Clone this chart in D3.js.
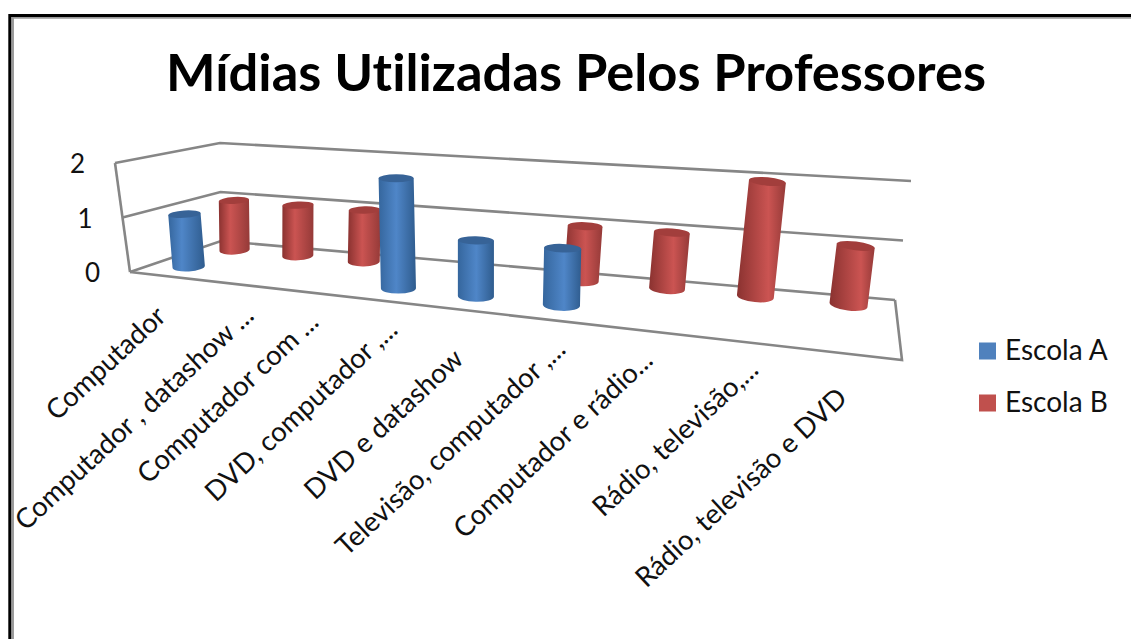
<!DOCTYPE html>
<html>
<head>
<meta charset="utf-8">
<script src="https://cdn.jsdelivr.net/npm/d3@7"></script>
<style>
    html, body { margin: 0; padding: 0; background: #fff; }
    svg { display: block; }
    text { font-family: Lato, "Open Sans", sans-serif; fill: #111; font-variant-ligatures: none; }
</style>
</head>
<body>
<div id="chart"></div>
<script>
const chartTitle = "Mídias Utilizadas Pelos Professores"
const categories = [
    "Computador",
    "Computador , datashow ...",
    "Computador com ...",
    "DVD, computador ,...",
    "DVD e datashow",
    "Televisão, computador ,...",
    "Computador e rádio...",
    "Rádio, televisão,...",
    "Rádio, televisão e DVD"
]
const seriesNames = ["Escola A", "Escola B"]
// null = pas de colonne pour cette catégorie
const escolaA = [1, null, null, 2, 1, 1, null, null, null]
const escolaB = [1, 1, 1, null, null, 1, 1, 2, 1]
const yTicks = [0, 1, 2]

const width = 1131, height = 639

// Coins du plancher et montée (pour la valeur max) de la boite 3D
const floorCorners = { fl: [130, 272], fr: [902, 360], bl: [221, 241], br: [895, 300] }
const riseCorners = { fl: [-15, -109], fr: [10, -125], bl: [-1, -98], br: [16, -119] }
const depths = { "Escola A": 0.42, "Escola B": 0.94 }
const barDrop = 5.5
// position de chaque catégorie le long du plancher (les écarts grandissent vers la droite)
const categoryStops = [0.028, 0.121, 0.218, 0.315, 0.421, 0.538, 0.664, 0.794, 0.931]
// décalage de la fin de chaque libellé par rapport au pied de sa catégorie
const labelOffsets = [[16, 44], [32, 35], [22, 33], [26, 32], [10, 52], [22, 32], [12, 32], [17, 30], [0, 46]]

const colors = {
    "Escola A": { legend: "#4f81bd", left: "#35669d", light: "#4f86c8", right: "#2f5c8e", cap: "#376397" },
    "Escola B": { legend: "#c0504d", left: "#8a3230", light: "#cb5452", right: "#953a38", cap: "#a23e3c" }
}

const svg = d3.select("#chart").append("svg")
    .attr("width", width)
    .attr("height", height)
    .attr("viewBox", [0, 0, width, height])
const defs = svg.append("defs")

// cadre de la capture
svg.append("path").attr("d", "M1131,17.5H12.7V639").attr("fill", "none").attr("stroke", "#999").attr("stroke-width", 2.5)
svg.append("path").attr("d", "M1131,15.5H9.8V639").attr("fill", "none").attr("stroke", "#000").attr("stroke-width", 3)

svg.append("text")
    .attr("x", 576).attr("y", 91)
    .attr("text-anchor", "middle")
    .style("font-size", "52.5px")
    .style("font-weight", "700")
    .style("fill", "#000")
    .text(chartTitle)

/*----- Projection -----*/

const riseScale = d3.scaleLinear().domain([0, 2]).range([0, 1])
const categoryScale = d3.scaleOrdinal().domain(categories).range(categoryStops)

function bilinear(c, u, d) {
    const front = d3.interpolate(c.fl, c.fr)(u)
    const back = d3.interpolate(c.bl, c.br)(u)
    return d3.interpolate(front, back)(d)
}

function project(u, d, value) {
    const p = bilinear(floorCorners, u, d)
    const r = bilinear(riseCorners, u, d)
    const k = riseScale(value)
    return [p[0] + r[0] * k, p[1] + r[1] * k]
}

/*----- Parois -----*/

const wallLine = d3.line()
const box = svg.append("g")
    .attr("fill", "none")
    .attr("stroke", "#868686")
    .attr("stroke-width", 2.6)
    .attr("stroke-linejoin", "miter")

yTicks.forEach(t => {
    box.append("path").attr("d", wallLine([project(0, 0, t), project(0, 1, t), project(1, 1, t)]))
})
box.append("path").attr("d", wallLine([project(0, 0, 0), project(0, 0, 2)]))
box.append("path").attr("d", wallLine([project(0, 0, 0), project(1, 0, 0), project(1, 1, 0)]))

svg.append("g").selectAll("text")
    .data(yTicks)
    .join("text")
    .attr("x", d => project(0, 0, d)[0] - 30)
    .attr("y", d => project(0, 0, d)[1] + 10)
    .attr("text-anchor", "end")
    .style("font-size", "26px")
    .text(d => d)

/*----- Colonnes -----*/

const rxScale = d3.scaleLinear().domain([0, 1]).range([15, 19.4])
const rxDepth = d3.scaleLinear().domain([0.94, 0.42]).range([1, 1.07])
const tiltScale = d3.scaleLinear().domain([0, 1]).range([-4, 8])
const highlightScale = d3.scaleLinear().domain([0, 1]).range([0.36, 0.72])

const bars = [
    ...escolaB.map((v, i) => ({ serie: seriesNames[1], category: categories[i], value: v })),
    ...escolaA.map((v, i) => ({ serie: seriesNames[0], category: categories[i], value: v }))
].filter(b => b.value !== null)

const barGroup = svg.append("g").attr("transform", `translate(0,${barDrop})`)

bars.forEach((b, i) => {
    const u = categoryScale(b.category)
    const depth = depths[b.serie]
    const c = colors[b.serie]
    const rx = rxScale(u) * rxDepth(depth)
    const ryTop = rx * 0.23, ryBottom = rx * 0.3
    const tilt = tiltScale(u)
    const ax = rx * Math.cos(tilt * Math.PI / 180), ay = rx * Math.sin(tilt * Math.PI / 180)
    const [bx, by] = project(u, depth, 0)
    const [tx, ty] = project(u, depth, b.value)

    const gradient = defs.append("linearGradient").attr("id", "bar-" + i)
    gradient.append("stop").attr("offset", 0).attr("stop-color", c.left)
    gradient.append("stop").attr("offset", highlightScale(u)).attr("stop-color", c.light)
    gradient.append("stop").attr("offset", 1).attr("stop-color", c.right)

    barGroup.append("path")
        .attr("d", `M${tx - ax},${ty - ay}L${bx - ax},${by - ay}A${rx},${ryBottom} ${tilt} 0 0 ${bx + ax},${by + ay}L${tx + ax},${ty + ay}Z`)
        .attr("fill", `url(#bar-${i})`)
    barGroup.append("ellipse")
        .attr("transform", `translate(${tx},${ty}) rotate(${tilt})`)
        .attr("rx", rx)
        .attr("ry", ryTop)
        .attr("fill", c.cap)
})

/*----- Libellés -----*/

svg.append("g").selectAll("text")
    .data(categories)
    .join("text")
    .attr("transform", (d, i) => {
        const p = project(categoryScale(d), 0, 0)
        return `translate(${p[0] + labelOffsets[i][0]},${p[1] + labelOffsets[i][1]}) rotate(-43)`
    })
    .attr("text-anchor", "end")
    .style("font-size", "27.5px")
    .text(d => d)

/*----- Légende -----*/

const legendY = d3.scalePoint().domain(seriesNames).range([351, 403])
const legend = svg.append("g").selectAll("g")
    .data(seriesNames)
    .join("g")
    .attr("transform", d => `translate(979,${legendY(d)})`)
legend.append("rect")
    .attr("y", -8.5).attr("width", 17).attr("height", 17)
    .attr("fill", d => colors[d].legend)
legend.append("text")
    .attr("x", 26).attr("y", 9)
    .style("font-size", "28px")
    .text(d => d)
</script>
</body>
</html>
